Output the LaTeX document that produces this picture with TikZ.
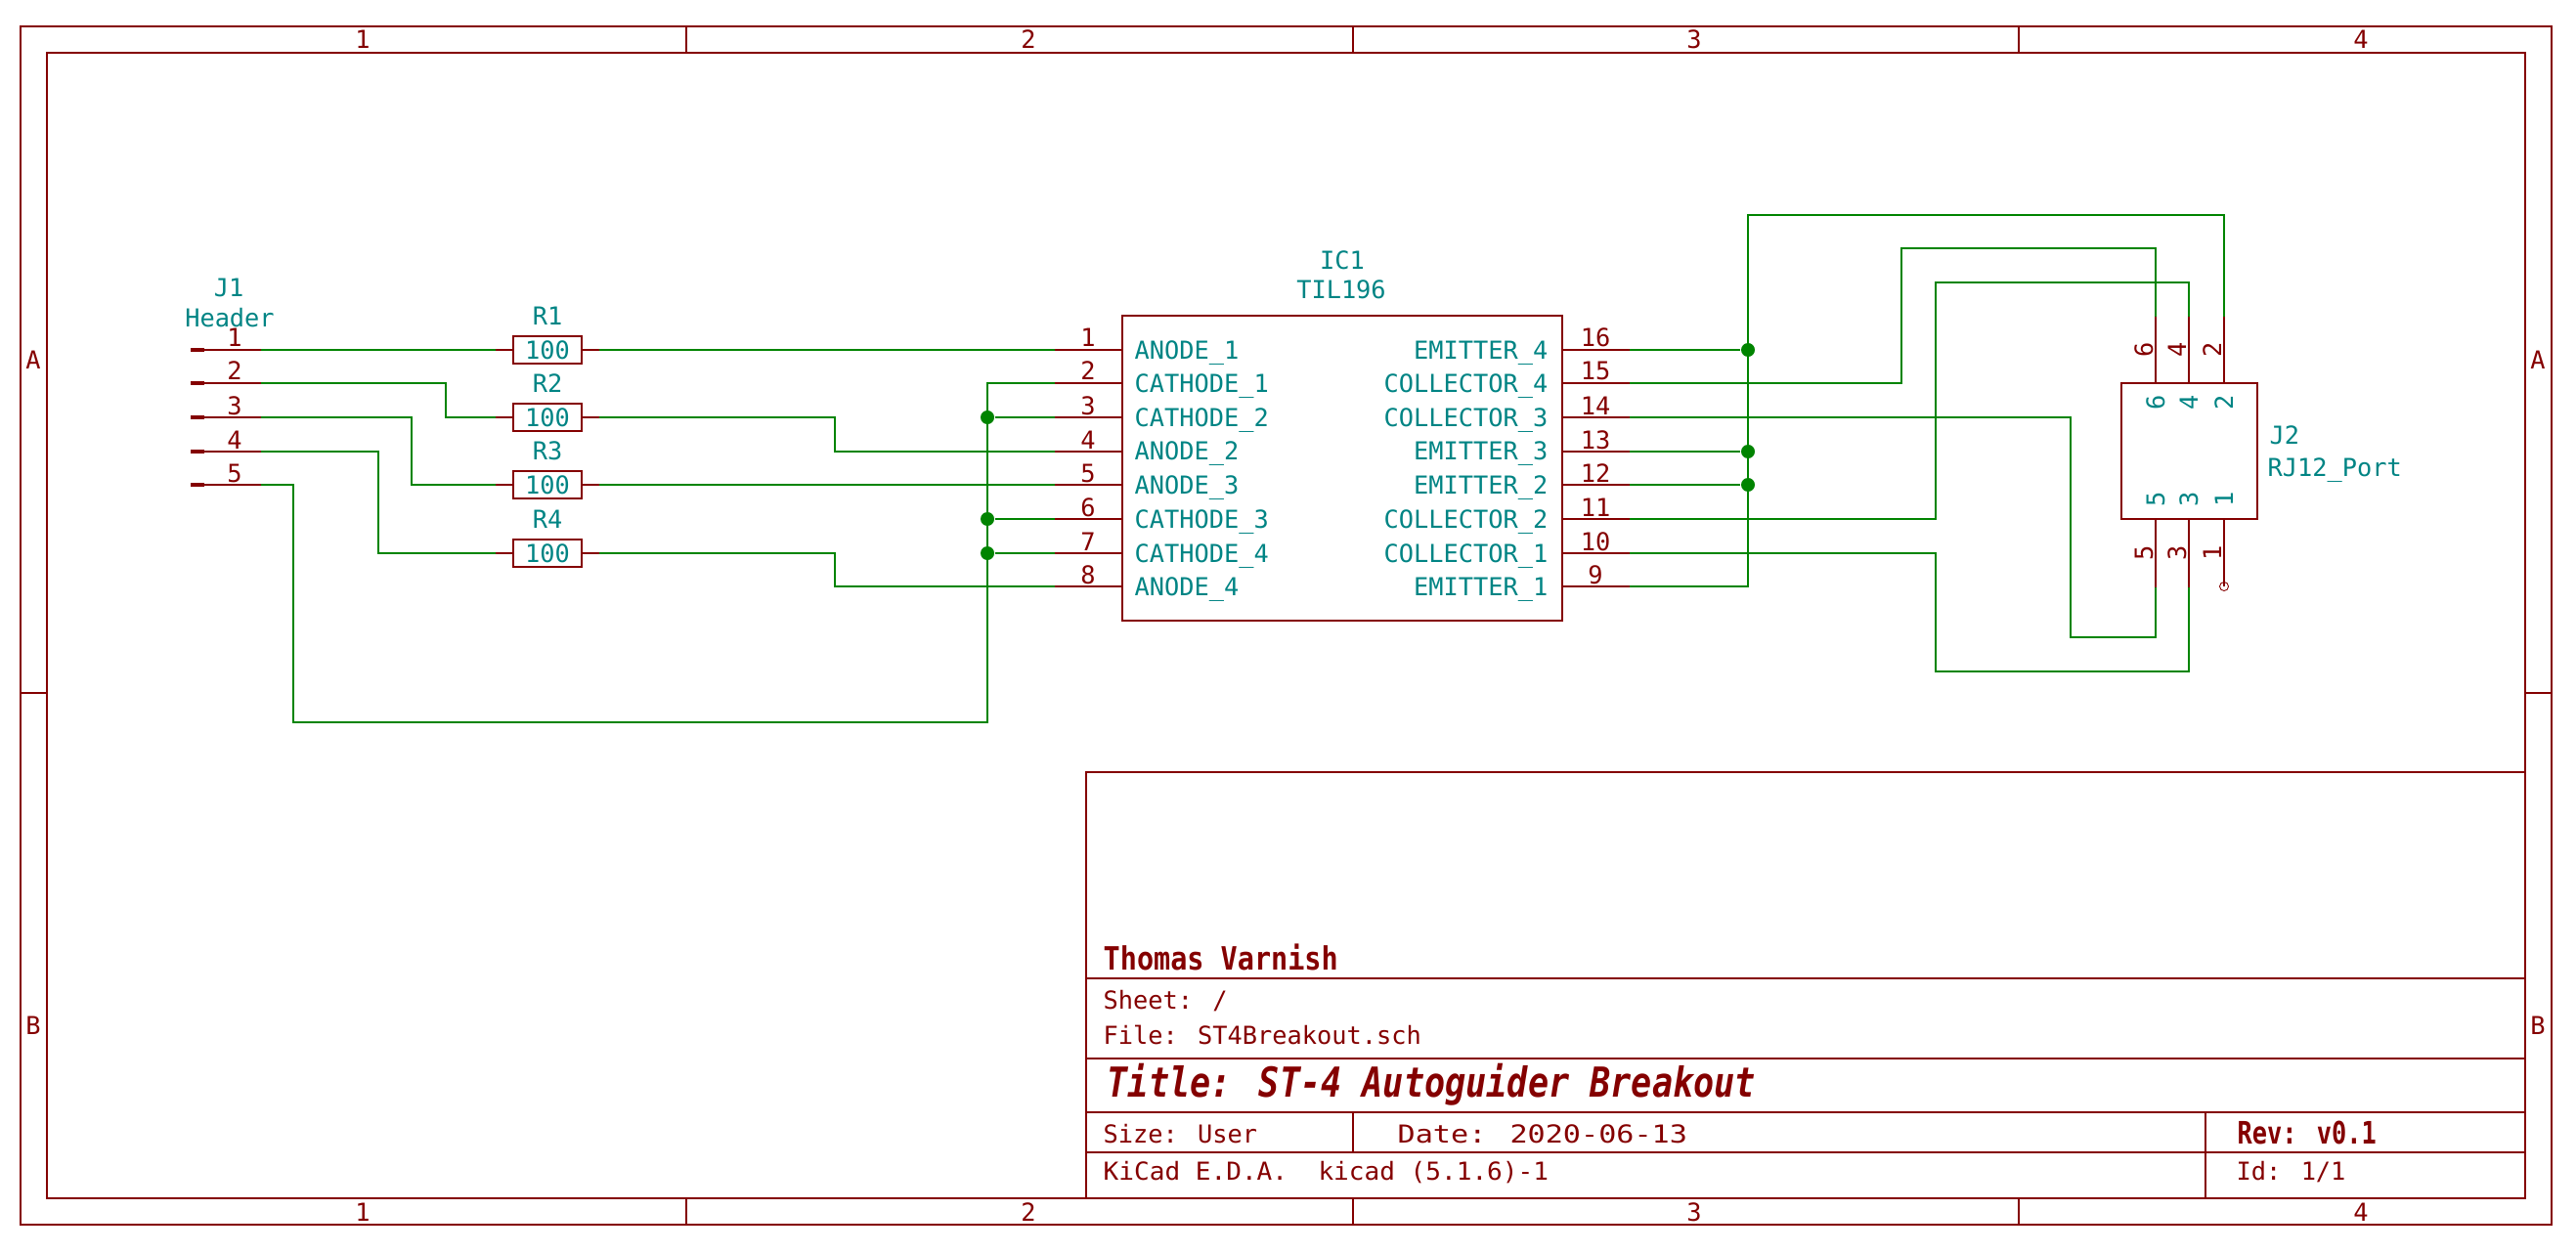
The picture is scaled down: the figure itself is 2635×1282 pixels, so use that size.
\documentclass[tikz,border=0pt]{standalone}
\usepackage{graphicx}
\usepackage{fontspec}
\setmainfont{DejaVu Sans Mono}
\definecolor{sheetred}{RGB}{132,0,0}
\definecolor{wiregreen}{RGB}{0,132,0}
\definecolor{partteal}{RGB}{0,132,132}
\tikzset{
  frameline/.style={sheetred, line width=0.65pt},
  wire/.style={wiregreen, line width=0.6pt},
  pinline/.style={sheetred, line width=0.6pt},
  padline/.style={sheetred, line width=1.4pt},
  partbox/.style={draw=sheetred, line width=0.7pt, inner sep=0pt, outer sep=0pt},
  redtxt/.style={text=sheetred, inner sep=0pt, anchor=base, font=\fontsize{7.2}{8}\selectfont},
  teal/.style={text=partteal, inner sep=0pt, anchor=base, font=\fontsize{7.2}{8}\selectfont},
  dot/.style={circle, fill=wiregreen, inner sep=0pt, minimum size=0.14cm},
}
\begin{document}
\begin{tikzpicture}[x=0.01cm, y=-0.01cm]
  \useasboundingbox (0,0) rectangle (2635,1282);
  % sheet frame
  \draw[frameline] (21,27) rectangle (2610,1253);
  \draw[frameline] (48,54) rectangle (2583,1226);
  \draw[frameline] (702,27) -- (702,54);
  \draw[frameline] (1384,27) -- (1384,54);
  \draw[frameline] (2065,27) -- (2065,54);
  \draw[frameline] (702,1226) -- (702,1253);
  \draw[frameline] (1384,1226) -- (1384,1253);
  \draw[frameline] (2065,1226) -- (2065,1253);
  \draw[frameline] (21,709) -- (48,709);
  \draw[frameline] (2583,709) -- (2610,709);
  \node[redtxt] (ct1) at (371,50) {1};
  \node[redtxt] (ct2) at (1052,50) {2};
  \node[redtxt] (ct3) at (1733,50) {3};
  \node[redtxt] (ct4) at (2415,50) {4};
  \node[redtxt] (cb1) at (371,1249) {1};
  \node[redtxt] (cb2) at (1052,1249) {2};
  \node[redtxt] (cb3) at (1733,1249) {3};
  \node[redtxt] (cb4) at (2415,1249) {4};
  \node[redtxt] (rla) at (34,377) {A};
  \node[redtxt] (rlb) at (34,1058) {B};
  \node[redtxt] (rra) at (2596,377) {A};
  \node[redtxt] (rrb) at (2596,1058) {B};
  % title block
  \draw[frameline] (1111,1226) -- (1111,790) -- (2583,790);
  \draw[frameline] (1111,1001) -- (2583,1001);
  \draw[frameline] (1111,1083) -- (2583,1083);
  \draw[frameline] (1111,1138) -- (2583,1138);
  \draw[frameline] (1111,1179) -- (2583,1179);
  \draw[frameline] (1384,1138) -- (1384,1179);
  \draw[frameline] (2256,1138) -- (2256,1226);
  \node[redtxt, anchor=base west, font=\fontsize{8.1}{9}\bfseries] (author) at (1128,992) {\scalebox{1}[1.15]{Thomas Varnish}};
  \node[redtxt, anchor=base west] (sheet) at (1128,1032) {Sheet: /};
  \node[redtxt, anchor=base west] (file) at (1128,1068) {File: ST4Breakout.sch};
  \node[redtxt, anchor=base west, font=\fontsize{10}{11}\bfseries\itshape] (title) at (1132,1122) {\scalebox{1}[1.2]{Title: ST-4 Autoguider Breakout}};
  \node[redtxt, anchor=base west] (size) at (1128,1169) {Size: User};
  \node[redtxt, anchor=base west] (date) at (1429,1169) {\scalebox{1.19}[1]{Date: 2020-06-13}};
  \node[redtxt, anchor=base west, font=\fontsize{7.2}{8}\bfseries] (rev) at (2288,1170) {\scalebox{1}[1.25]{Rev: v0.1}};
  \node[redtxt, anchor=base west] (kicad) at (1128,1207) {\scalebox{1.03}[1]{KiCad E.D.A.\ \ kicad (5.1.6)-1}};
  \node[redtxt, anchor=base west] (sheetid) at (2287,1207) {Id: 1/1};
  % J1
  \node[teal] (j1ref) at (234,304) {J1};
  \node[teal] (j1val) at (235,335) {Header};
  \coordinate (j1a1) at (195,358);
  \coordinate (j1a2) at (195,392);
  \coordinate (j1a3) at (195,427);
  \coordinate (j1a4) at (195,462);
  \coordinate (j1a5) at (195,496);
  \coordinate (j1b1) at (209,358);
  \coordinate (j1b2) at (209,392);
  \coordinate (j1b3) at (209,427);
  \coordinate (j1b4) at (209,462);
  \coordinate (j1b5) at (209,496);
  \coordinate (j1c1) at (267,358);
  \coordinate (j1c2) at (267,392);
  \coordinate (j1c3) at (267,427);
  \coordinate (j1c4) at (267,462);
  \coordinate (j1c5) at (267,496);
  \draw[padline] (j1a1) -- (j1b1);
  \draw[padline] (j1a2) -- (j1b2);
  \draw[padline] (j1a3) -- (j1b3);
  \draw[padline] (j1a4) -- (j1b4);
  \draw[padline] (j1a5) -- (j1b5);
  \draw[pinline] (j1b1) -- (j1c1);
  \draw[pinline] (j1b2) -- (j1c2);
  \draw[pinline] (j1b3) -- (j1c3);
  \draw[pinline] (j1b4) -- (j1c4);
  \draw[pinline] (j1b5) -- (j1c5);
  \node[redtxt] (j1n1) at (240,355) {1};
  \node[redtxt] (j1n2) at (240,389) {2};
  \node[redtxt] (j1n3) at (240,424) {3};
  \node[redtxt] (j1n4) at (240,459) {4};
  \node[redtxt] (j1n5) at (240,493) {5};
  % resistors
  \node[partbox, line width=0.8pt, minimum width=0.7cm, minimum height=0.28cm, text=partteal, font=\fontsize{7.2}{8}\selectfont] (r1) at (560,358) {100};
  \node[partbox, line width=0.8pt, minimum width=0.7cm, minimum height=0.28cm, text=partteal, font=\fontsize{7.2}{8}\selectfont] (r2) at (560,427) {100};
  \node[partbox, line width=0.8pt, minimum width=0.7cm, minimum height=0.28cm, text=partteal, font=\fontsize{7.2}{8}\selectfont] (r3) at (560,496) {100};
  \node[partbox, line width=0.8pt, minimum width=0.7cm, minimum height=0.28cm, text=partteal, font=\fontsize{7.2}{8}\selectfont] (r4) at (560,566) {100};
  \node[teal] (r1ref) at (560,333) {R1};
  \node[teal] (r2ref) at (560,401) {R2};
  \node[teal] (r3ref) at (560,470) {R3};
  \node[teal] (r4ref) at (560,540) {R4};
  \coordinate (r1a) at (507,358);
  \coordinate (r2a) at (507,427);
  \coordinate (r3a) at (507,496);
  \coordinate (r4a) at (507,566);
  \coordinate (r1b) at (613,358);
  \coordinate (r2b) at (613,427);
  \coordinate (r3b) at (613,496);
  \coordinate (r4b) at (613,566);
  \draw[pinline] (r1a) -- (r1);
  \draw[pinline] (r2a) -- (r2);
  \draw[pinline] (r3a) -- (r3);
  \draw[pinline] (r4a) -- (r4);
  \draw[pinline] (r1) -- (r1b);
  \draw[pinline] (r2) -- (r2b);
  \draw[pinline] (r3) -- (r3b);
  \draw[pinline] (r4) -- (r4b);
  % IC1
  \node[partbox, minimum width=4.5cm, minimum height=3.12cm] (ic1) at (1373,479) {};
  \node[teal] (icref) at (1373,276) {IC1};
  \node[teal] (icval) at (1372,306) {TIL196};
  \coordinate (u1) at (1079,358);
  \coordinate (u2) at (1079,392);
  \coordinate (u3) at (1079,427);
  \coordinate (u4) at (1079,462);
  \coordinate (u5) at (1079,496);
  \coordinate (u6) at (1079,531);
  \coordinate (u7) at (1079,566);
  \coordinate (u8) at (1079,600);
  \coordinate (u9) at (1667,600);
  \coordinate (u10) at (1667,566);
  \coordinate (u11) at (1667,531);
  \coordinate (u12) at (1667,496);
  \coordinate (u13) at (1667,462);
  \coordinate (u14) at (1667,427);
  \coordinate (u15) at (1667,392);
  \coordinate (u16) at (1667,358);
  \draw[pinline] (u1) -- (u1 -| ic1.west);
  \draw[pinline] (u2) -- (u2 -| ic1.west);
  \draw[pinline] (u3) -- (u3 -| ic1.west);
  \draw[pinline] (u4) -- (u4 -| ic1.west);
  \draw[pinline] (u5) -- (u5 -| ic1.west);
  \draw[pinline] (u6) -- (u6 -| ic1.west);
  \draw[pinline] (u7) -- (u7 -| ic1.west);
  \draw[pinline] (u8) -- (u8 -| ic1.west);
  \draw[pinline] (u9) -- (u9 -| ic1.east);
  \draw[pinline] (u10) -- (u10 -| ic1.east);
  \draw[pinline] (u11) -- (u11 -| ic1.east);
  \draw[pinline] (u12) -- (u12 -| ic1.east);
  \draw[pinline] (u13) -- (u13 -| ic1.east);
  \draw[pinline] (u14) -- (u14 -| ic1.east);
  \draw[pinline] (u15) -- (u15 -| ic1.east);
  \draw[pinline] (u16) -- (u16 -| ic1.east);
  \node[redtxt] (n1) at (1113,355) {1};
  \node[redtxt] (n2) at (1113,389) {2};
  \node[redtxt] (n3) at (1113,424) {3};
  \node[redtxt] (n4) at (1113,459) {4};
  \node[redtxt] (n5) at (1113,493) {5};
  \node[redtxt] (n6) at (1113,528) {6};
  \node[redtxt] (n7) at (1113,563) {7};
  \node[redtxt] (n8) at (1113,597) {8};
  \node[redtxt] (n9) at (1632,597) {9};
  \node[redtxt] (n10) at (1632,563) {10};
  \node[redtxt] (n11) at (1632,528) {11};
  \node[redtxt] (n12) at (1632,493) {12};
  \node[redtxt] (n13) at (1632,459) {13};
  \node[redtxt] (n14) at (1632,424) {14};
  \node[redtxt] (n15) at (1632,389) {15};
  \node[redtxt] (n16) at (1632,355) {16};
  \node[teal, anchor=base west] (pa1) at (1160,367) {ANODE\_1};
  \node[teal, anchor=base west] (pc1) at (1160,401) {CATHODE\_1};
  \node[teal, anchor=base west] (pc2) at (1160,436) {CATHODE\_2};
  \node[teal, anchor=base west] (pa2) at (1160,471) {ANODE\_2};
  \node[teal, anchor=base west] (pa3) at (1160,505) {ANODE\_3};
  \node[teal, anchor=base west] (pc3) at (1160,540) {CATHODE\_3};
  \node[teal, anchor=base west] (pc4) at (1160,575) {CATHODE\_4};
  \node[teal, anchor=base west] (pa4) at (1160,609) {ANODE\_4};
  \node[teal, anchor=base east] (pe1) at (1584,609) {EMITTER\_1};
  \node[teal, anchor=base east] (pk1) at (1584,575) {COLLECTOR\_1};
  \node[teal, anchor=base east] (pk2) at (1584,540) {COLLECTOR\_2};
  \node[teal, anchor=base east] (pe2) at (1584,505) {EMITTER\_2};
  \node[teal, anchor=base east] (pe3) at (1584,471) {EMITTER\_3};
  \node[teal, anchor=base east] (pk3) at (1584,436) {COLLECTOR\_3};
  \node[teal, anchor=base east] (pk4) at (1584,401) {COLLECTOR\_4};
  \node[teal, anchor=base east] (pe4) at (1584,367) {EMITTER\_4};
  % J2
  \node[partbox, minimum width=1.39cm, minimum height=1.39cm] (j2) at (2239.5,461.5) {};
  \node[teal, anchor=base west] (j2ref) at (2321,455) {J2};
  \node[teal, anchor=base west] (j2val) at (2319,487) {RJ12\_Port};
  \coordinate (jp6) at (2205,324);
  \coordinate (jp4) at (2239,324);
  \coordinate (jp2) at (2275,324);
  \coordinate (jp5) at (2205,601);
  \coordinate (jp3) at (2239,601);
  \node[circle, draw=sheetred, line width=0.25pt, inner sep=0pt, minimum size=0.09cm] (jp1) at (2275,600) {};
  \draw[pinline] (jp6) -- (jp6 |- j2.north);
  \draw[pinline] (jp4) -- (jp4 |- j2.north);
  \draw[pinline] (jp2) -- (jp2 |- j2.north);
  \draw[pinline] (jp5) -- (jp5 |- j2.south);
  \draw[pinline] (jp3) -- (jp3 |- j2.south);
  \draw[pinline] (jp1.center) -- (jp1 |- j2.south);
  \node[redtxt, rotate=90] (jn6) at (2202,358) {6};
  \node[redtxt, rotate=90] (jn4) at (2236,358) {4};
  \node[redtxt, rotate=90] (jn2) at (2272,358) {2};
  \node[redtxt, rotate=90] (jn5) at (2202,566) {5};
  \node[redtxt, rotate=90] (jn3) at (2236,566) {3};
  \node[redtxt, rotate=90] (jn1) at (2272,566) {1};
  \node[teal, rotate=90] (jt6) at (2214,412) {6};
  \node[teal, rotate=90] (jt4) at (2248,412) {4};
  \node[teal, rotate=90] (jt2) at (2284,412) {2};
  \node[teal, rotate=90] (jt5) at (2214,511) {5};
  \node[teal, rotate=90] (jt3) at (2248,511) {3};
  \node[teal, rotate=90] (jt1) at (2284,511) {1};
  % wires
  \draw[wire] (j1c1) -- (r1a);
  \draw[wire] (j1c2) -- (456,392) -- (456,427) -- (r2a);
  \draw[wire] (j1c3) -- (421,427) -- (421,496) -- (r3a);
  \draw[wire] (j1c4) -- (387,462) -- (387,566) -- (r4a);
  \draw[wire] (j1c5) -- (300,496) -- (300,739) -- (1010,739) -- (1010,392) -- (u2);
  \draw[wire] (r1b) -- (u1);
  \draw[wire] (r2b) -- (854,427) -- (854,462) -- (u4);
  \draw[wire] (r3b) -- (u5);
  \draw[wire] (r4b) -- (854,566) -- (854,600) -- (u8);
  \node[dot] (d3) at (1010,427) {};
  \node[dot] (d6) at (1010,531) {};
  \node[dot] (d7) at (1010,566) {};
  \draw[wire] (d3) -- (u3);
  \draw[wire] (d6) -- (u6);
  \draw[wire] (d7) -- (u7);
  \node[dot] (d16) at (1788,358) {};
  \node[dot] (d13) at (1788,462) {};
  \node[dot] (d12) at (1788,496) {};
  \draw[wire] (u16) -- (d16);
  \draw[wire] (u13) -- (d13);
  \draw[wire] (u12) -- (d12);
  \draw[wire] (u9) -- (1788,600) -- (1788,220) -- (2275,220) -- (jp2);
  \draw[wire] (u15) -- (1945,392) -- (1945,254) -- (2205,254) -- (jp6);
  \draw[wire] (u14) -- (2118,427) -- (2118,652) -- (2205,652) -- (jp5);
  \draw[wire] (u11) -- (1980,531) -- (1980,289) -- (2239,289) -- (jp4);
  \draw[wire] (u10) -- (1980,566) -- (1980,687) -- (2239,687) -- (jp3);
\end{tikzpicture}
\end{document}
